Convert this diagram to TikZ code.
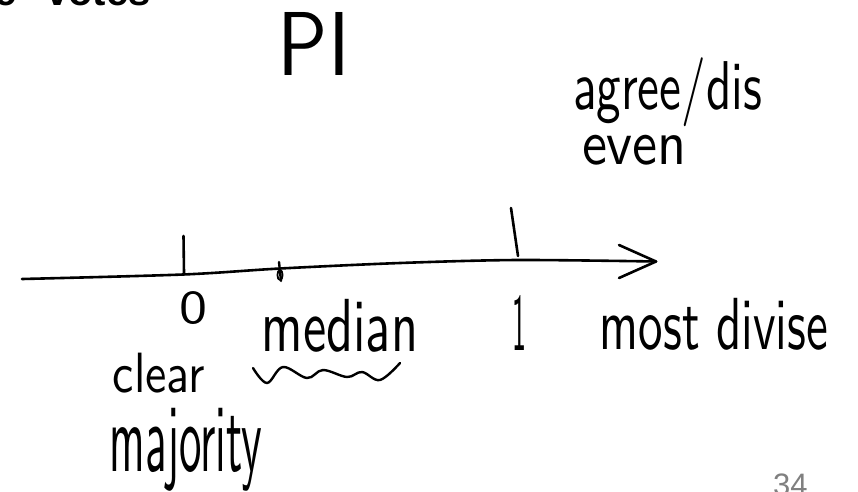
\documentclass[tikz,border=0pt]{standalone}
\usepackage{fontspec}
\usepackage{graphicx}
\newfontfamily\arialfont{Liberation Sans}
\newcommand{\hw}[3]{\resizebox*{#1pt}{#2pt}{\sffamily #3}}
\tikzset{
  ink/.style={line width=2.6pt, line cap=round, line join=round, black},
  lbl/.style={inner sep=0pt, outer sep=0pt, anchor=center},
}
\begin{document}
\begin{tikzpicture}[x=1pt,y=-1pt]
\useasboundingbox (0,0) rectangle (858,491);
\clip (0,0) rectangle (858,491);
\fill[white] (0,0) rectangle (858,491);
% title fragment cut off at the top
\node[inner sep=0pt, anchor=base east] (tE) at (16.5,5) {\arialfont\bfseries\fontsize{40}{40}\selectfont e};
\node[inner sep=0pt, anchor=base west] (tV) at (46,5) {\arialfont\bfseries\fontsize{40}{40}\selectfont votes};
% heading
\node[lbl] (PI) at (314,43.5) {\hw{72}{63}{PI}};
\node[lbl] (agree) at (667.5,92.5) {\hw{189}{69}{agree/dis}};
\node[lbl] (even) at (634.5,150) {\hw{105}{30}{even}};
% axis
\coordinate (axL) at (22,279);
\coordinate (ax0) at (183,274.5);
\coordinate (axM) at (280,268.5);
\coordinate (axA) at (400,263);
\coordinate (ax1) at (517,260);
\coordinate (tip) at (656,261.5);
\coordinate (armU) at (619,245);
\coordinate (armD) at (619,278);
\draw[ink] plot[smooth] coordinates {(axL) (ax0) (axM) (axA) (ax1) (tip)};
\draw[ink] (armU) -- (tip) -- (armD);
% ticks
\coordinate (t0a) at (183.5,236);
\coordinate (t0b) at (184,273);
\coordinate (t1a) at (511,208);
\coordinate (t1b) at (518,256);
\draw[ink] (t0a) -- (t0b);
\draw[ink] (t1a) -- (t1b);
% median mark
\coordinate (ma) at (279,262);
\coordinate (mb) at (281,281);
\draw[ink, line width=2.4pt] (ma) -- (mb);
\draw[ink, line width=1.8pt] (280,275) ellipse (2.6 and 5);
% labels below the axis
\node[lbl] (zero) at (193,308.5) {\hw{28}{33}{0}};
\node[lbl] (median) at (340,325.5) {\hw{156}{53}{median}};
\node[lbl] (one) at (519,322.5) {\hw{14}{55}{1}};
\node[lbl] (most) at (714,324) {\hw{228}{52}{most divise}};
\node[lbl] (clear) at (159,373) {\hw{92}{40}{clear}};
\node[lbl] (major) at (186,449.5) {\hw{152}{83}{majority}};
% wavy underline
\draw[ink, line width=2.4pt] plot[smooth, tension=0.6] coordinates {(253,368) (267,383) (283,367) (307,378) (323,370) (347,377) (362,372) (380,380) (400,363)};
% page number
\node[inner sep=0pt, anchor=base west, text=black!50] (page) at (773,495) {\arialfont\fontsize{31}{31}\selectfont 34};
\end{tikzpicture}
\end{document}
